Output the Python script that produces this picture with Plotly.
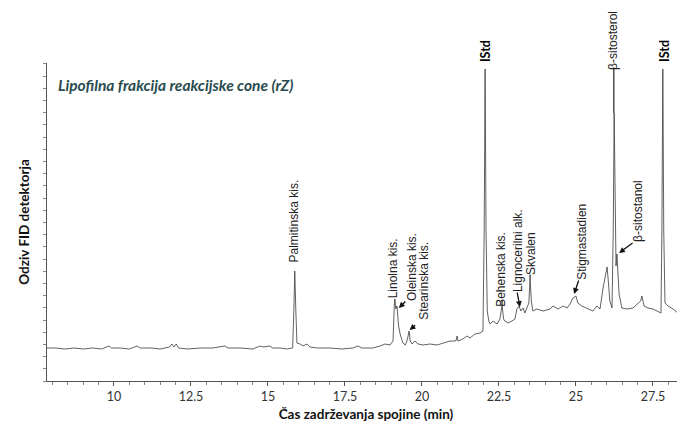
import plotly.graph_objects as go

# Retention time (min) and detector response (arbitrary units)
time_min = [
    7.80, 8.10, 8.40, 8.70, 9.00, 9.30, 9.60, 9.84, 9.92, 10.20, 10.50, 10.75, 10.85,
    11.20, 11.50, 11.80, 11.88, 11.95, 12.02, 12.10, 12.40, 12.80, 13.20, 13.60, 13.70,
    14.10, 14.50, 14.75, 14.84, 15.06, 15.15, 15.40, 15.60, 15.80, 15.84, 15.87, 15.90,
    15.94, 16.04, 16.14, 16.20, 16.27, 16.36, 16.60, 17.00, 17.40, 17.76, 17.92, 18.05,
    18.40, 18.64, 18.80, 18.96, 19.06, 19.10, 19.12, 19.15, 19.19, 19.24, 19.29, 19.38,
    19.46, 19.53, 19.58, 19.62, 19.68, 19.77, 19.87, 20.03, 20.26, 20.49, 20.68, 20.91,
    21.10, 21.14, 21.17, 21.33, 21.46, 21.56, 21.72, 21.88, 21.98, 22.02, 22.05, 22.08,
    22.12, 22.17, 22.21, 22.31, 22.44, 22.53, 22.60, 22.65, 22.69, 22.79, 22.92, 23.02,
    23.08, 23.15, 23.21, 23.28, 23.34, 23.41, 23.47, 23.51, 23.55, 23.60, 23.73, 23.93,
    24.16, 24.25, 24.42, 24.58, 24.71, 24.81, 24.90, 25.00, 25.06, 25.19, 25.36, 25.55,
    25.68, 25.78, 25.88, 25.97, 26.01, 26.05, 26.10, 26.17, 26.21, 26.24, 26.27, 26.30,
    26.33, 26.37, 26.40, 26.49, 26.66, 26.85, 27.01, 27.10, 27.14, 27.18, 27.21, 27.34,
    27.50, 27.63, 27.76, 27.79, 27.82, 27.85, 27.89, 27.99, 28.15, 28.31, 28.47, 28.54,
]
response = [
    33, 33, 32, 33, 32, 33, 32, 35, 33, 33, 32, 35, 33,
    33, 32, 34, 37, 34, 37, 33, 32, 33, 33, 35, 33,
    33, 32, 35, 34, 35, 33, 33, 32, 33, 70, 110, 75,
    38, 37, 35, 36, 37, 34, 33, 33, 32, 33, 35, 33,
    33, 35, 37, 36, 40, 75, 82, 72, 75, 55, 47, 38,
    36, 42, 50, 40, 37, 40, 37, 36, 37, 36, 38, 40,
    40, 45, 40, 42, 45, 43, 47, 48, 50, 150, 312, 150,
    70, 60, 57, 60, 57, 62, 76, 62, 60, 58, 60, 62,
    72, 75, 70, 73, 68, 73, 78, 103, 80, 70, 72, 70,
    72, 75, 72, 75, 73, 77, 83, 85, 78, 75, 73, 70,
    75, 72, 93, 110, 114, 100, 80, 73, 150, 268, 150, 115,
    127, 100, 87, 73, 72, 73, 77, 80, 85, 80, 75, 73,
    72, 70, 68, 150, 312, 150, 78, 75, 72, 68, 65, 64,
]

x_ticks = [10, 12.5, 15, 17.5, 20, 22.5, 25, 27.5]
x_tick_labels = ["10", "12.5", "15", "17.5", "20", "22.5", "25", "27.5"]

# Peak labels: text, x (min), y (response at label centre)
peak_labels = ["Palmitinska kis.", "Linolna kis.", "Oleinska kis.", "Stearinska kis.",
               "Behenska kis.", "Lignocerilni alk.", "Skvalen", "Stigmastadien",
               "β-sitostanol"]
peak_label_x = [15.86, 19.07, 19.68, 20.06, 22.56, 23.12, 23.54, 25.19, 27.01]
peak_label_y = [160, 113, 114, 100, 112, 130, 127, 139, 170]

# Arrows (head at peak; tail offset in px)
arrow_x = [19.25, 19.60, 23.18, 24.94, 26.40]
arrow_y = [73, 51, 74, 87, 128]
arrow_ax = [8, 7, -3, 5, 15]
arrow_ay = [-8, -6, -16, -15, -11]

YMAX = 318
LABEL_FONT = dict(family="Liberation Sans, Arial, sans-serif", size=12, color="#222")

fig = go.Figure()
fig.add_trace(go.Scatter(
    x=time_min, y=response, mode="lines",
    line=dict(color="#3a3a3a", width=0.8),
    hoverinfo="skip", showlegend=False,
))

ann = []
for t, x, y in zip(peak_labels, peak_label_x, peak_label_y):
    ann.append(dict(x=x, y=y, xref="x", yref="y", text=t, showarrow=False,
                    textangle=-90, xanchor="center", yanchor="middle", font=LABEL_FONT))

for x, y, ax_, ay_ in zip(arrow_x, arrow_y, arrow_ax, arrow_ay):
    ann.append(dict(x=x, y=y, xref="x", yref="y", text="", showarrow=True,
                    ax=ax_, ay=ay_, arrowhead=2, arrowsize=0.9, arrowwidth=1.3,
                    arrowcolor="#111", standoff=0, startstandoff=0))

# short leader lines (no heads)
leaders = [(22.60, 76, -6), (23.51, 103, -5), (26.23, 268, -47)]
for x, y, ay_ in leaders:
    ann.append(dict(x=x, y=y, xref="x", yref="y", text="", showarrow=True,
                    ax=0, ay=ay_, arrowhead=0, arrowwidth=1.1, arrowcolor="#111"))

# labels above the plot area
ann.append(dict(x=26.20, y=341 / YMAX, xref="x", yref="paper", text="β-sitosterol",
                showarrow=False, textangle=-90, xanchor="center", yanchor="middle",
                font=LABEL_FONT))
for xi in [22.05, 27.86]:
    ann.append(dict(x=xi, y=330 / YMAX, xref="x", yref="paper", text="<b>IStd</b>",
                    showarrow=False, textangle=-90, xanchor="center", yanchor="middle",
                    font=dict(family="Lato, sans-serif", size=12.5, color="#000")))

ann.append(dict(x=0.014, y=0.93, xref="paper", yref="paper", xanchor="left", yanchor="middle",
                text="<b><i>Lipofilna frakcija reakcijske cone (rZ)</i></b>", showarrow=False,
                font=dict(family="Lato, sans-serif", size=15.5, color="#284b4f")))

# The page body has an 8px default margin, so the figure is sized 8px smaller.
fig.update_layout(
    width=677, height=418,
    margin=dict(l=39, r=0, t=55, b=45),
    paper_bgcolor="white", plot_bgcolor="white",
    annotations=ann,
    xaxis=dict(
        range=[7.825, 28.54], tickmode="array", tickvals=x_ticks, ticktext=x_tick_labels,
        showgrid=False, zeroline=False, showline=True, linecolor="#555", linewidth=1,
        ticks="outside", ticklen=4, tickcolor="#555",
        minor=dict(dtick=0.5, tick0=0, ticks="outside", ticklen=3, tickcolor="#888"),
        tickfont=dict(family="Lato, sans-serif", size=12.5, color="#333"),
        title=dict(text="<b>Čas zadrževanja spojine (min)</b>", standoff=6,
                   font=dict(family="Lato, sans-serif", size=13.5, color="#111")),
    ),
    yaxis=dict(
        range=[0, YMAX], showticklabels=False, showgrid=False, zeroline=False,
        showline=True, linecolor="#555", linewidth=1,
        ticks="outside", ticklen=3, tickcolor="#888", tick0=0, dtick=12.2,
        title=dict(text="<b>Odziv FID detektorja</b>", standoff=10,
                   font=dict(family="Lato, sans-serif", size=13.5, color="#111")),
    ),
)

fig.write_html("out.html")
